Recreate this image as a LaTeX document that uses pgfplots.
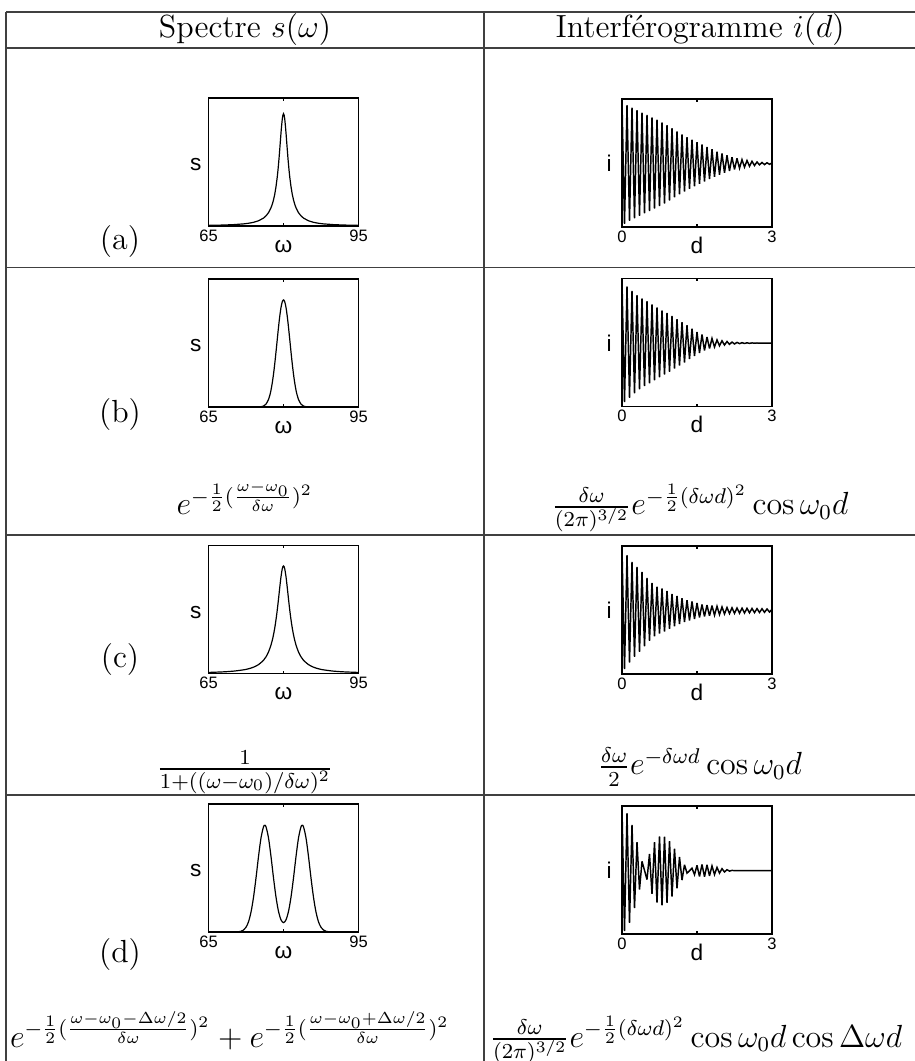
\documentclass[border=0pt,12pt]{standalone}
\usepackage{fontspec}
\usepackage{pgfplots}
\pgfplotsset{compat=1.18}
\newfontfamily\lab{Liberation Sans}

% one small MATLAB-like panel
\pgfplotsset{
  cell/.style={
    anchor=north west, scale only axis, width=56.25pt, height=48pt,
    ytick=\empty, tick align=inside, major tick length=1.1pt,
    every tick/.style={black, line width=0.4pt},
    axis line style={black, line width=0.55pt},
    tick label style={font=\fontsize{6.2}{7}\lab},
    xticklabel style={anchor=base, yshift=-5.8pt},
    every axis x label/.style={at={(axis description cs:0.5,-0.205)}, anchor=base, font=\fontsize{8.5}{10}\lab},
    every axis y label/.style={at={(axis description cs:-0.085,0.43)}, anchor=base, font=\fontsize{8.5}{10}\lab},
  },
  spec/.style={cell, xmin=65, xmax=95, ymin=0, xtick={65,80,95}, xticklabels={65,,95}, xlabel={ω}, ylabel={s}},
  intf/.style={cell, xmin=0, xmax=3, ymin=-1.03, ymax=1.05, xtick={0,1.5,3}, xticklabels={0,,3}, xlabel={d}, ylabel={i}},
  crv/.style={black, line width=0.45pt, no markers},
  osc/.style={black, line width=0.55pt, no markers, line join=miter, miter limit=4},
}

\begin{document}
\begin{tikzpicture}[x=0.375pt, y=0.375pt]
\path[use as bounding box] (0,0) rectangle (915,1061);

% table rules
\begin{scope}[black!75, line width=0.45pt]
\draw (6,1049) -- (915,1049);
\draw (6,1013) -- (915,1013);
\draw (6,793.3) -- (915,793.3);
\draw (6,526) -- (915,526);
\draw (6,266) -- (915,266);
\draw (6,1049) -- (6,0);
\draw (484,1049) -- (484,0);
\end{scope}

\node[anchor=base] at (245,1023) {Spectre $s(\omega)$};
\node[anchor=base] at (700,1023) {Interférogramme $i(d)$};

\node[anchor=base] at (120,811) {(a)};
\node[anchor=base] at (120,638) {(b)};
\node[anchor=base] at (120,393) {(c)};
\node[anchor=base] at (120,98) {(d)};

\node[anchor=base] at (245,546) {$e^{-\frac{1}{2}(\frac{\omega-\omega_0}{\delta\omega})^2}$};
\node[anchor=base] at (700,546) {$\frac{\delta\omega}{(2\pi)^{3/2}}e^{-\frac{1}{2}(\delta\omega d)^2}\cos\omega_0 d$};
\node[anchor=base] at (245,284) {$\frac{1}{1+((\omega-\omega_0)/\delta\omega)^2}$};
\node[anchor=base] at (700,286) {$\frac{\delta\omega}{2}e^{-\delta\omega d}\cos\omega_0 d$};
\node[anchor=base] at (230,14) {$e^{-\frac{1}{2}(\frac{\omega-\omega_0-\Delta\omega/2}{\delta\omega})^2}+e^{-\frac{1}{2}(\frac{\omega-\omega_0+\Delta\omega/2}{\delta\omega})^2}$};
\node[anchor=base] at (696,14) {$\frac{\delta\omega}{(2\pi)^{3/2}}e^{-\frac{1}{2}(\delta\omega d)^2}\cos\omega_0 d\cos\Delta\omega d$};

% (a) Lorentzian spectrum
\begin{axis}[spec, at={(78.19pt,361.13pt)}, ymax=1.14]
\addplot[crv] coordinates {
(65,0.0054) (68,0.0083) (70,0.0120) (72,0.0186) (73,0.0241) (74,0.0325)
(75,0.0462) (76,0.0703) (76.5,0.0899) (77,0.1185) (77.5,0.162) (77.75,0.193)
(78,0.232) (78.25,0.283) (78.5,0.350) (78.75,0.436) (78.9,0.5) (79,0.548)
(79.1,0.599) (79.25,0.683) (79.4,0.771) (79.5,0.829) (79.6,0.883) (79.75,0.951)
(79.875,0.987) (80,1) (80.125,0.987) (80.25,0.951) (80.4,0.883) (80.5,0.829)
(80.6,0.771) (80.75,0.683) (80.9,0.599) (81,0.548) (81.1,0.5) (81.25,0.436)
(81.5,0.350) (81.75,0.283) (82,0.232) (82.25,0.193) (82.5,0.162) (83,0.1185)
(83.5,0.0899) (84,0.0703) (85,0.0462) (86,0.0325) (87,0.0241) (88,0.0186)
(90,0.0120) (92,0.0083) (95,0.0054)};
\end{axis}

% (a) interferogram
\begin{axis}[intf, at={(233.25pt,360.75pt)}]
\addplot[osc] table {
d i
0.00 1.00
0.05 -0.98
0.10 0.95
0.15 -0.93
0.20 0.91
0.25 -0.89
0.30 0.87
0.35 -0.85
0.40 0.83
0.45 -0.81
0.50 0.79
0.55 -0.77
0.60 0.75
0.65 -0.73
0.70 0.715
0.75 -0.69
0.80 0.67
0.85 -0.65
0.90 0.625
0.95 -0.60
1.00 0.575
1.05 -0.55
1.10 0.525
1.15 -0.50
1.20 0.475
1.25 -0.455
1.30 0.43
1.35 -0.41
1.40 0.39
1.45 -0.37
1.50 0.35
1.55 -0.33
1.60 0.31
1.65 -0.29
1.70 0.27
1.75 -0.25
1.80 0.235
1.85 -0.215
1.90 0.195
1.95 -0.18
2.00 0.165
2.05 -0.15
2.10 0.135
2.15 -0.12
2.20 0.105
2.25 -0.095
2.30 0.085
2.35 -0.075
2.40 0.065
2.45 -0.057
2.50 0.05
2.55 -0.043
2.60 0.037
2.65 -0.031
2.70 0.026
2.75 -0.021
2.80 0.018
2.85 -0.016
2.90 0.014
2.95 -0.012
3.00 0.011
};
\end{axis}

% (b) Gaussian spectrum
\begin{axis}[spec, at={(78.19pt,293.25pt)}, ymax=1.195]
\addplot[crv, smooth] coordinates {
(65,0) (74,0) (75,0.0006) (75.5,0.0025) (76,0.0088) (76.5,0.0267) (77,0.0698)
(77.25,0.107) (77.5,0.157) (77.75,0.224) (78,0.306) (78.25,0.404) (78.5,0.514)
(78.75,0.630) (79,0.744) (79.25,0.847) (79.5,0.929) (79.75,0.982) (80,1)
(80.25,0.982) (80.5,0.929) (80.75,0.847) (81,0.744) (81.25,0.630) (81.5,0.514)
(81.75,0.404) (82,0.306) (82.25,0.224) (82.5,0.157) (82.75,0.107) (83,0.0698)
(83.5,0.0267) (84,0.0088) (84.5,0.0025) (85,0.0006) (86,0) (95,0)};
\end{axis}

% (b) interferogram
\begin{axis}[intf, at={(233.25pt,293.44pt)}]
\addplot[osc] table {
d i
0.00 1.00
0.05 -0.96
0.10 0.92
0.15 -0.89
0.20 0.85
0.25 -0.815
0.30 0.78
0.35 -0.75
0.40 0.725
0.45 -0.70
0.50 0.68
0.55 -0.655
0.60 0.63
0.65 -0.605
0.70 0.58
0.75 -0.555
0.80 0.53
0.85 -0.51
0.90 0.49
0.95 -0.465
1.00 0.44
1.05 -0.415
1.10 0.39
1.15 -0.365
1.20 0.34
1.25 -0.315
1.30 0.29
1.35 -0.26
1.40 0.235
1.45 -0.21
1.50 0.18
1.55 -0.16
1.60 0.14
1.65 -0.12
1.70 0.10
1.75 -0.088
1.80 0.075
1.85 -0.063
1.90 0.052
1.95 -0.044
2.00 0.037
2.05 -0.031
2.10 0.026
2.15 -0.021
2.20 0.017
2.25 -0.014
2.30 0.011
2.35 -0.009
2.40 0.007
2.45 -0.006
2.50 0.005
2.55 -0.004
2.60 0.003
2.65 -0.002
2.70 0.002
2.75 -0.001
2.80 0.001
2.85 -0.001
2.90 0.001
2.95 0
3.00 0
};
\end{axis}

% (c) wide Lorentzian spectrum
\begin{axis}[spec, at={(78.19pt,193.31pt)}, ymax=1.19]
\addplot[crv, smooth] coordinates {
(65,0.0099) (68,0.0154) (70,0.022) (72,0.034) (73,0.0439) (74,0.0588) (75,0.0826)
(76,0.123) (76.5,0.155) (77,0.2) (77.5,0.265) (77.75,0.3077) (78,0.36)
(78.25,0.4235) (78.5,0.5) (78.75,0.59) (79,0.692) (79.25,0.8) (79.5,0.9)
(79.75,0.973) (79.875,0.993) (80,1) (80.125,0.993) (80.25,0.973) (80.5,0.9)
(80.75,0.8) (81,0.692) (81.25,0.59) (81.5,0.5) (81.75,0.4235) (82,0.36)
(82.25,0.3077) (82.5,0.265) (83,0.2) (83.5,0.155) (84,0.123) (85,0.0826)
(86,0.0588) (87,0.0439) (88,0.034) (90,0.022) (92,0.0154) (95,0.0099)};
\end{axis}

% (c) interferogram
\begin{axis}[intf, at={(233.25pt,193.13pt)}]
\addplot[osc] table {
d i
0.00 1.00
0.05 -0.95
0.10 0.90
0.15 -0.845
0.20 0.79
0.25 -0.75
0.30 0.71
0.35 -0.67
0.40 0.63
0.45 -0.58
0.50 0.53
0.55 -0.49
0.60 0.45
0.65 -0.42
0.70 0.39
0.75 -0.375
0.80 0.36
0.85 -0.34
0.90 0.32
0.95 -0.295
1.00 0.27
1.05 -0.255
1.10 0.24
1.15 -0.22
1.20 0.20
1.25 -0.185
1.30 0.17
1.35 -0.16
1.40 0.15
1.45 -0.137
1.50 0.125
1.55 -0.112
1.60 0.10
1.65 -0.095
1.70 0.09
1.75 -0.085
1.80 0.08
1.85 -0.075
1.90 0.07
1.95 -0.065
2.00 0.06
2.05 -0.055
2.10 0.05
2.15 -0.048
2.20 0.046
2.25 -0.044
2.30 0.042
2.35 -0.041
2.40 0.04
2.45 -0.039
2.50 0.037
2.55 -0.036
2.60 0.035
2.65 -0.033
2.70 0.032
2.75 -0.031
2.80 0.03
2.85 -0.028
2.90 0.026
2.95 -0.023
3.00 0.02
};
\end{axis}

% (d) doublet spectrum
\begin{axis}[spec, at={(78.19pt,96.38pt)}, ymax=1.2]
\addplot[crv, smooth] coordinates {
(65,0) (69.5,0) (70,0.0001) (70.5,0.0006) (71,0.0022) (71.5,0.0066) (72,0.0181)
(72.5,0.0439) (73,0.0956) (73.5,0.186) (74,0.325) (74.5,0.506) (75,0.707)
(75.5,0.882) (76,0.986) (76.25,1.0) (76.5,0.986) (77,0.882) (77.5,0.707)
(78,0.507) (78.5,0.327) (79,0.193) (79.5,0.1137) (80,0.0878) (80.5,0.1137)
(81,0.193) (81.5,0.327) (82,0.507) (82.5,0.707) (83,0.882) (83.5,0.986)
(83.75,1.0) (84,0.986) (84.5,0.882) (85,0.707) (85.5,0.506) (86,0.325)
(86.5,0.186) (87,0.0956) (87.5,0.0439) (88,0.0181) (88.5,0.0066) (89,0.0022)
(89.5,0.0006) (90,0.0001) (90.5,0) (95,0)};
\end{axis}

% (d) interferogram with beats
\begin{axis}[intf, at={(233.25pt,95.63pt)}]
\addplot[osc] table {
d i
0.00 1.000
0.05 -0.983
0.10 0.932
0.15 -0.850
0.20 0.741
0.25 -0.610
0.30 0.463
0.35 -0.307
0.40 0.150
0.45 0.004
0.50 -0.146
0.55 0.272
0.60 -0.379
0.65 0.462
0.70 -0.520
0.75 0.555
0.80 -0.565
0.85 0.553
0.90 -0.523
0.95 0.478
1.00 -0.421
1.05 0.356
1.10 -0.288
1.15 0.221
1.20 -0.155
1.25 0.095
1.30 -0.042
1.35 -0.003
1.40 0.039
1.45 -0.066
1.50 0.085
1.55 -0.096
1.60 0.100
1.65 -0.099
1.70 0.093
1.75 -0.085
1.80 0.075
1.85 -0.064
1.90 0.052
1.95 -0.041
2.00 0.031
2.05 -0.022
2.10 0.014
2.15 -0.008
2.20 0.003
2.25 0
3.00 0
};
\end{axis}
\end{tikzpicture}
\end{document}
